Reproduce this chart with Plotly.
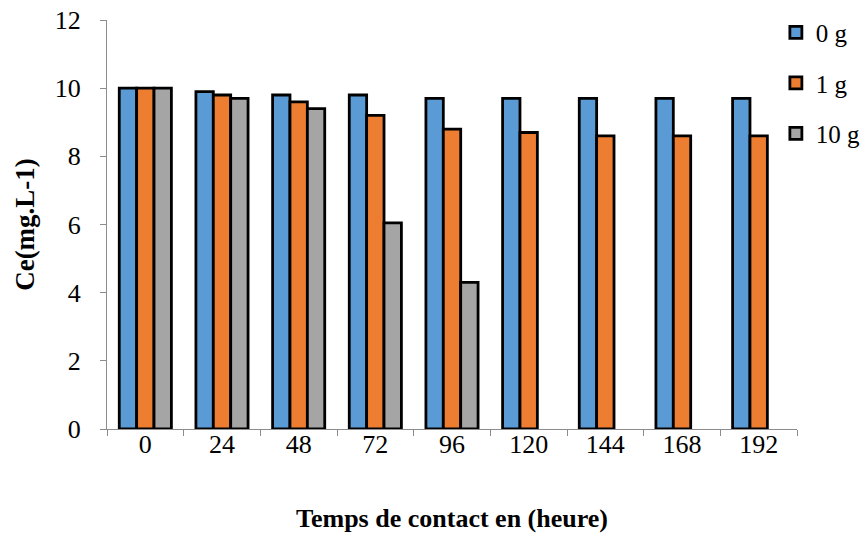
import plotly.graph_objects as go

# Contact time (hours) and residual concentration for each adsorbent dose
temps = ["0", "24", "48", "72", "96", "120", "144", "168", "192"]
ce_0g = [10.0, 9.9, 9.8, 9.8, 9.7, 9.7, 9.7, 9.7, 9.7]
ce_1g = [10.0, 9.8, 9.6, 9.2, 8.8, 8.7, 8.6, 8.6, 8.6]
ce_10g = [10.0, 9.7, 9.4, 6.05, 4.3, None, None, None, None]

series = [
    ("0 g", ce_0g, "#5B9BD5"),
    ("1 g", ce_1g, "#ED7D31"),
    ("10 g", ce_10g, "#A5A5A5"),
]

fig = go.Figure()
for name, vals, color in series:
    fig.add_trace(go.Bar(
        x=temps, y=vals, name=name, legendgroup=name,
        marker=dict(color=color, line=dict(color="black", width=2.8)),
    ))

font = "Liberation Serif, Times New Roman, serif"
fig.update_layout(
    width=864, height=535,
    margin=dict(l=107, r=67, t=20, b=106, autoexpand=False),
    paper_bgcolor="white", plot_bgcolor="white",
    font=dict(family=font, size=26, color="black"),
    barmode="group", bargap=0.32, bargroupgap=0.0,
    legend=dict(xref="container", yref="container",
                x=0.898, xanchor="left", y=0.982, yanchor="top",
                font=dict(size=25), tracegroupgap=15,
                itemwidth=30, bgcolor="rgba(0,0,0,0)"),
    xaxis=dict(
        title=dict(text="<b>Temps de contact en (heure)</b>", standoff=50,
                   font=dict(size=26)),
        showline=True, linecolor="#8c8c8c", linewidth=1.3,
        ticks="outside", tickson="boundaries", ticklen=6,
        tickcolor="#8c8c8c", showgrid=False, ticklabelstandoff=-8,
    ),
    yaxis=dict(
        title=dict(text="<b>Ce(mg.L-1)</b>", standoff=12, font=dict(size=27)),
        range=[0, 12], dtick=2,
        showline=True, linecolor="#8c8c8c", linewidth=1.3,
        ticks="outside", ticklen=6, tickcolor="#8c8c8c",
        showgrid=False, zeroline=False, ticklabelstandoff=14,
    ),
)

fig.write_html("out.html")
